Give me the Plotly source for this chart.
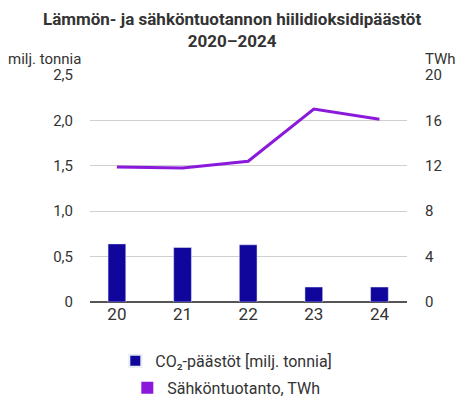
import plotly.graph_objects as go

years = ["20", "21", "22", "23", "24"]
co2 = [0.64, 0.60, 0.63, 0.165, 0.165]
power = [11.9, 11.8, 12.4, 17.0, 16.1]
left_vals = [0, 0.5, 1.0, 1.5, 2.0, 2.5]
left_text = ["0", "0,5", "1,0", "1,5", "2,0", "2,5"]
right_vals = [0, 4, 8, 12, 16, 20]
right_text = ["0", "4", "8", "12", "16", "20"]

BAR = "#10069c"
LINE = "#8a19dc"
TXT = "#333333"
FONT = "Roboto"

fig = go.Figure()
fig.add_trace(go.Bar(x=years, y=co2, marker_color=BAR, width=0.27, legend="legend",
                     name="CO₂-päästöt [milj. tonnia]", yaxis="y"))
fig.add_trace(go.Scatter(x=years, y=power, mode="lines", line=dict(color=LINE, width=3),
                         yaxis="y2", showlegend=False, name="Sähköntuotanto, TWh"))
fig.add_trace(go.Scatter(x=[None], y=[None], mode="markers", yaxis="y2", legend="legend2",
                         marker=dict(symbol="square", size=13, color=LINE),
                         name="Sähköntuotanto, TWh"))

# page body adds an 8px offset; figure is sized so its visible part matches the window
fig.update_layout(
    width=456, height=392,
    margin=dict(l=82, r=57, t=67, b=98),
    paper_bgcolor="white", plot_bgcolor="white",
    font=dict(family=FONT, color=TXT, size=15),
    showlegend=True,
    legend=dict(orientation="v", x=0.43, xanchor="center", yref="container", y=0.1435,
                yanchor="top", font=dict(size=16, color=TXT), itemsizing="constant"),
    legend2=dict(orientation="v", x=0.43, xanchor="center", yref="container", y=0.0745,
                 yanchor="top", font=dict(size=16, color=TXT), itemsizing="constant"),
    xaxis=dict(range=[-0.41, 4.42], showgrid=False, ticks="", tickfont=dict(size=17, color=TXT),
               showline=False, zeroline=False, automargin=False),
    yaxis=dict(range=[0, 2.5], tickvals=left_vals, ticktext=left_text, showgrid=True,
               gridcolor="#d0d0d0", gridwidth=1, zeroline=True, zerolinecolor="#555555",
               zerolinewidth=2, tickfont=dict(size=15, color=TXT), ticklabelstandoff=16,
               automargin=False),
    yaxis2=dict(range=[0, 20], tickvals=right_vals, ticktext=right_text, overlaying="y",
                side="right", showgrid=False, zeroline=False,
                tickfont=dict(size=15, color=TXT), ticklabelstandoff=17, automargin=False),
    annotations=[
        dict(text="<b>Lämmön- ja sähköntuotannon hiilidioksidipäästöt<br>2020–2024</b>",
             xref="paper", yref="paper", x=0.448, y=1.2, xanchor="center", yanchor="middle",
             showarrow=False, font=dict(size=17, color=TXT)),
        dict(text="milj. tonnia", xref="paper", yref="paper", x=-0.265, y=1.072,
             xanchor="left", yanchor="middle", showarrow=False, font=dict(size=15, color=TXT)),
        dict(text="TWh", xref="paper", yref="paper", x=1.16, y=1.072,
             xanchor="right", yanchor="middle", showarrow=False, font=dict(size=15, color=TXT)),
    ],
)

fig.write_html("out.html")
